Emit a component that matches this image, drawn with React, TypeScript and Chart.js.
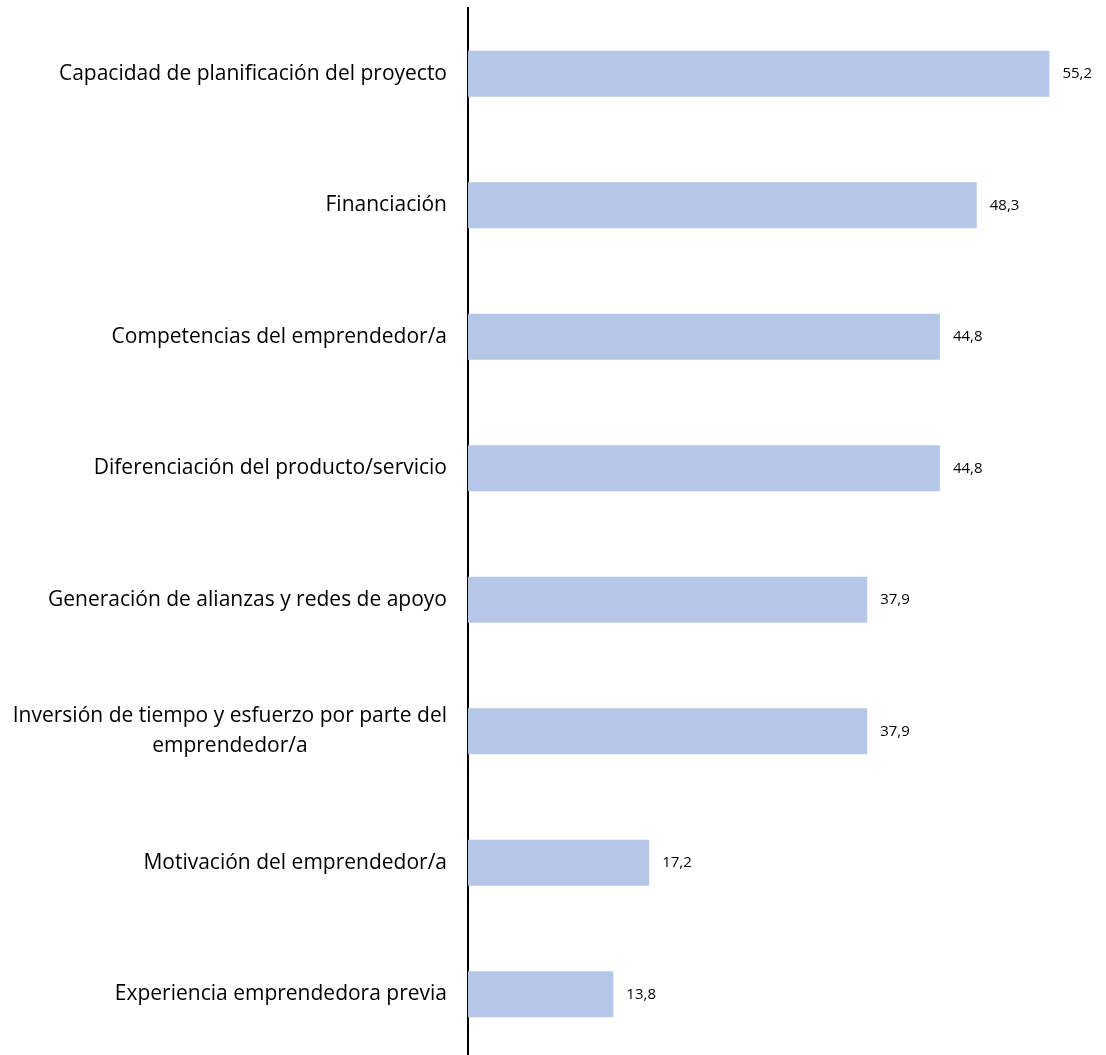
import React, { useEffect, useRef } from "react";
import { Chart, registerables } from "chart.js";

Chart.register(...registerables);

const categories: (string | string[])[] = [
  "Capacidad de planificación del proyecto",
  "Financiación",
  "Competencias del emprendedor/a",
  "Diferenciación del producto/servicio",
  "Generación de alianzas y redes de apoyo",
  ["Inversión de tiempo y esfuerzo por parte del", "emprendedor/a"],
  "Motivación del emprendedor/a",
  "Experiencia emprendedora previa",
];

const values: number[] = [55.2, 48.3, 44.8, 44.8, 37.9, 37.9, 17.2, 13.8];

const FONT = "'Open Sans', 'DejaVu Sans', sans-serif";

const valueLabels = {
  id: "valueLabels",
  afterDatasetsDraw(chart: any) {
    const ctx = chart.ctx;
    const meta = chart.getDatasetMeta(0);
    ctx.save();
    ctx.font = `15px ${FONT}`;
    ctx.fillStyle = "#000";
    ctx.textAlign = "left";
    ctx.textBaseline = "middle";
    meta.data.forEach((bar: any, i: number) => {
      const v = values[i].toFixed(1).replace(".", ",");
      ctx.fillText(v, bar.x + 13, bar.y);
    });
    ctx.restore();
  },
};

const categoryLabels = {
  id: "categoryLabels",
  afterDraw(chart: any) {
    const ctx = chart.ctx;
    const yScale = chart.scales.y;
    const right = yScale.right - 21;
    const lineH = 30;
    ctx.save();
    ctx.font = `21px ${FONT}`;
    ctx.fillStyle = "#000";
    ctx.textAlign = "center";
    ctx.textBaseline = "middle";
    categories.forEach((lab, i) => {
      const lines = Array.isArray(lab) ? lab : [lab];
      const maxW = Math.max(...lines.map((l) => ctx.measureText(l).width));
      const cx = right - maxW / 2;
      const cy = yScale.getPixelForValue(i);
      const y0 = cy - ((lines.length - 1) * lineH) / 2;
      lines.forEach((l, k) => ctx.fillText(l, cx, y0 + k * lineH));
    });
    ctx.restore();
  },
};

export default function App() {
  const ref = useRef<HTMLCanvasElement | null>(null);

  useEffect(() => {
    document.body.style.margin = "0";
    document.body.style.overflow = "hidden";
    if (!ref.current) return;
    const chart = new Chart(ref.current, {
      type: "bar",
      data: {
        labels: categories.map((c) => (Array.isArray(c) ? c.join(" ") : c)),
        datasets: [
          {
            data: values,
            backgroundColor: "#B4C7E7",
            borderWidth: 0,
            categoryPercentage: 1,
            barPercentage: 0.35,
          },
        ],
      },
      options: {
        indexAxis: "y",
        animation: false,
        responsive: false,
        maintainAspectRatio: false,
        layout: { padding: { top: 8, right: 6, left: 0, bottom: 0 } },
        plugins: {
          legend: { display: false },
          tooltip: { enabled: false },
          title: { display: false },
        },
        scales: {
          x: {
            min: 0,
            max: 60,
            display: false,
          },
          y: {
            grid: { display: false },
            ticks: { display: false },
            border: { display: true, color: "#000", width: 2 },
            afterFit: (s: any) => {
              s.width = 468;
            },
          },
        },
      },
      plugins: [valueLabels, categoryLabels],
    });
    return () => chart.destroy();
  }, []);

  return (
    <div style={{ width: 1106, height: 1055, overflow: "hidden" }}>
      <canvas ref={ref} width={1106} height={1060} style={{ display: "block" }} />
    </div>
  );
}
